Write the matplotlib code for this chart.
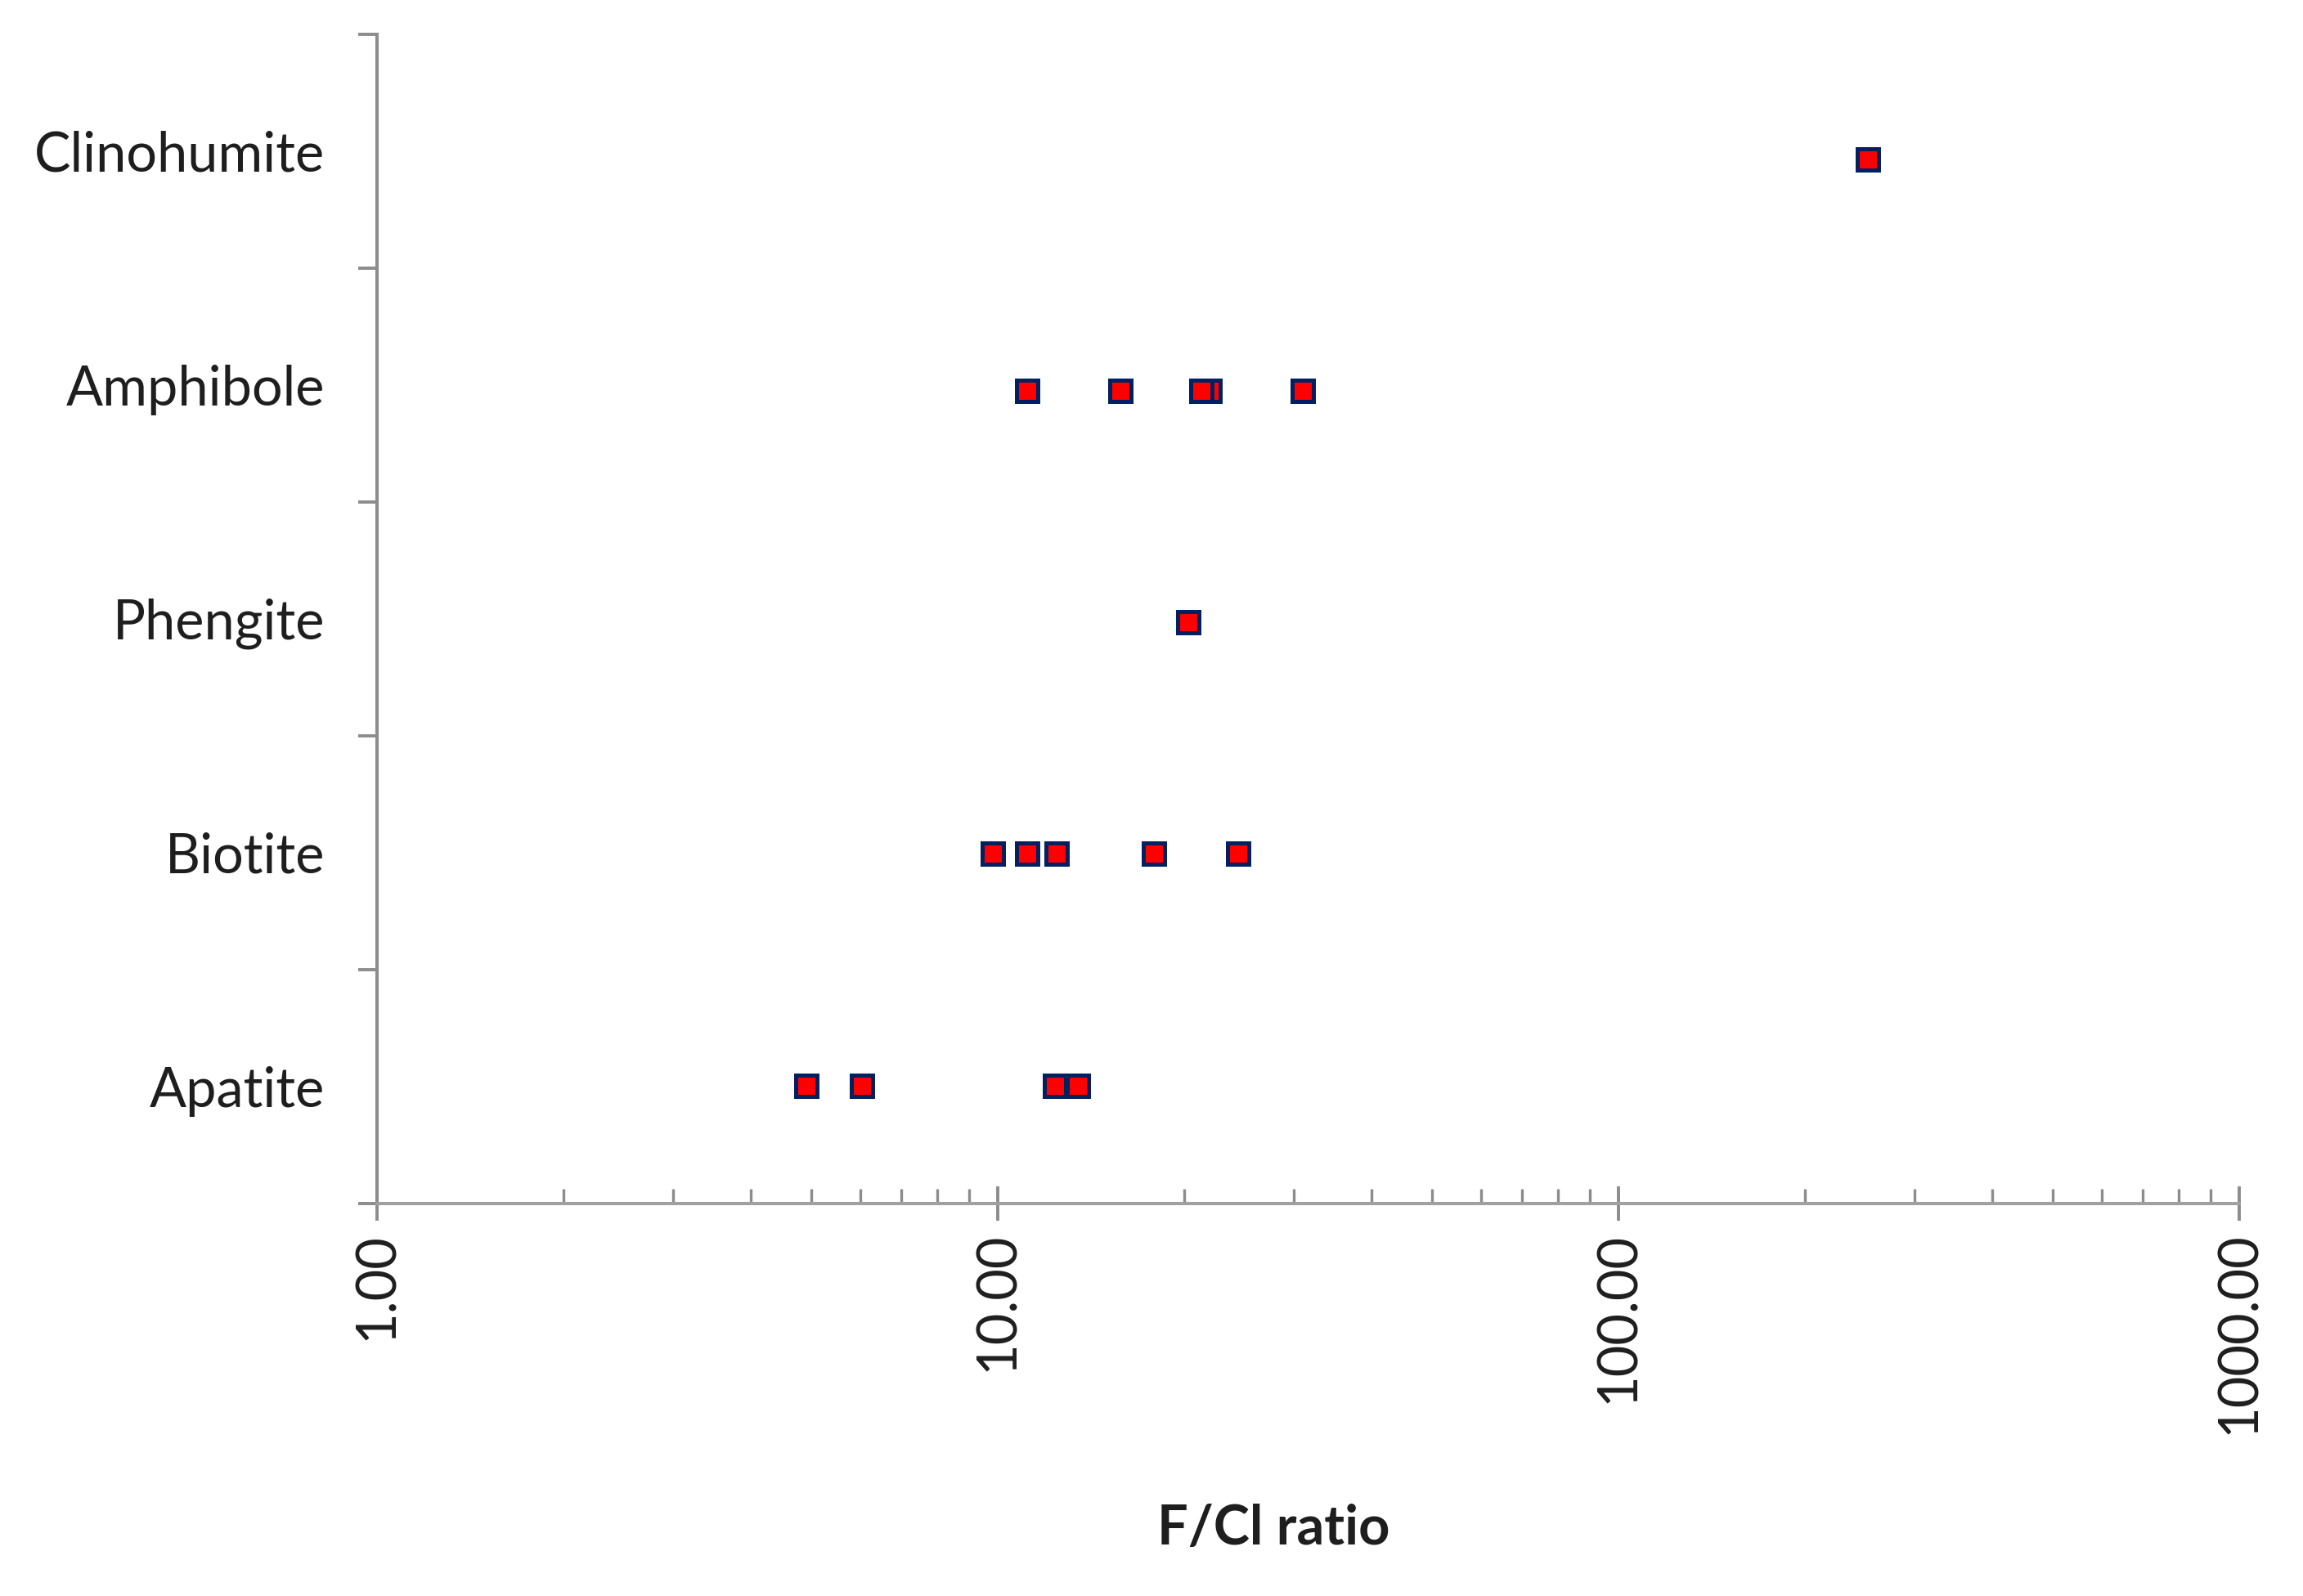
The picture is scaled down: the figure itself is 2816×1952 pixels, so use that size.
import matplotlib
matplotlib.use("Agg")
import matplotlib.pyplot as plt
import numpy as np
from matplotlib.ticker import FixedLocator, NullFormatter, FuncFormatter

plt.rcParams['font.family'] = ['Lato', 'DejaVu Sans']

# Categories (bottom to top)
categories = ["Apatite", "Biotite", "Phengite", "Amphibole", "Clinohumite"]

# F/Cl ratios
apatite = [4.92, 6.05, 12.37, 13.46]
biotite = [9.83, 11.15, 12.44, 17.85, 24.43]
phengite = [20.25]
amphibole = [11.15, 15.74, 21.91, 21.26, 30.96]
clinohumite = [251.9]

series = [apatite, biotite, phengite, amphibole, clinohumite]

x_major = [1, 10, 100, 1000]

fig = plt.figure(figsize=(14.08, 9.76), dpi=200)
ax = fig.add_axes([461/2816, 1 - 1472/1952, (2738-461)/2816, (1472-42)/1952])

for i, vals in enumerate(series):
    ax.plot(vals, [i + 1] * len(vals), linestyle='none', marker='s',
            markersize=9.4, markerfacecolor='#ff0000',
            markeredgecolor='#002060', markeredgewidth=1.8, zorder=3,
            clip_on=False)

ax.set_xscale('log')
ax.set_xlim(1, 1000)
y0, y1 = 0.49, len(categories) + 0.54
ax.set_ylim(y0, y1)

ax.xaxis.set_major_locator(FixedLocator(x_major))
ax.xaxis.set_major_formatter(FuncFormatter(lambda v, p: f"{v:.2f}"))
minor = [m * d for d in [1, 10, 100] for m in range(2, 10)]
ax.xaxis.set_minor_locator(FixedLocator(minor))
ax.xaxis.set_minor_formatter(NullFormatter())

bounds = np.linspace(y0, y1, len(categories) + 1)
ax.set_yticks(bounds)
ax.set_yticklabels([])
ax.set_yticks((bounds[:-1] + bounds[1:]) / 2, minor=True)
ax.set_yticklabels(categories, minor=True)

for s in ['top', 'right']:
    ax.spines[s].set_visible(False)
ax.spines['left'].set_color('#8c8c8c')
ax.spines['left'].set_linewidth(1.45)
ax.spines['bottom'].set_color('#a0a0a0')
ax.spines['bottom'].set_linewidth(1.45)

ax.tick_params(axis='x', which='major', direction='inout', length=15,
               width=1.4, color='#8c8c8c', pad=5, labelsize=24,
               labelcolor='#1e1e1e', labelrotation=90)
ax.tick_params(axis='x', which='minor', direction='in', length=6.5,
               width=1.2, color='#8c8c8c')
ax.tick_params(axis='y', which='major', direction='out', length=8.3,
               width=1.4, color='#8c8c8c')
ax.tick_params(axis='y', which='minor', length=0, pad=23, labelsize=24,
               labelcolor='#1e1e1e')

fig.text(1557/2816, 1 - 1870/1952, "F/Cl ratio", ha='center', va='center',
         fontsize=24, fontweight='bold', color='#1e1e1e')

fig.savefig("out.png", dpi=200, facecolor='white')
